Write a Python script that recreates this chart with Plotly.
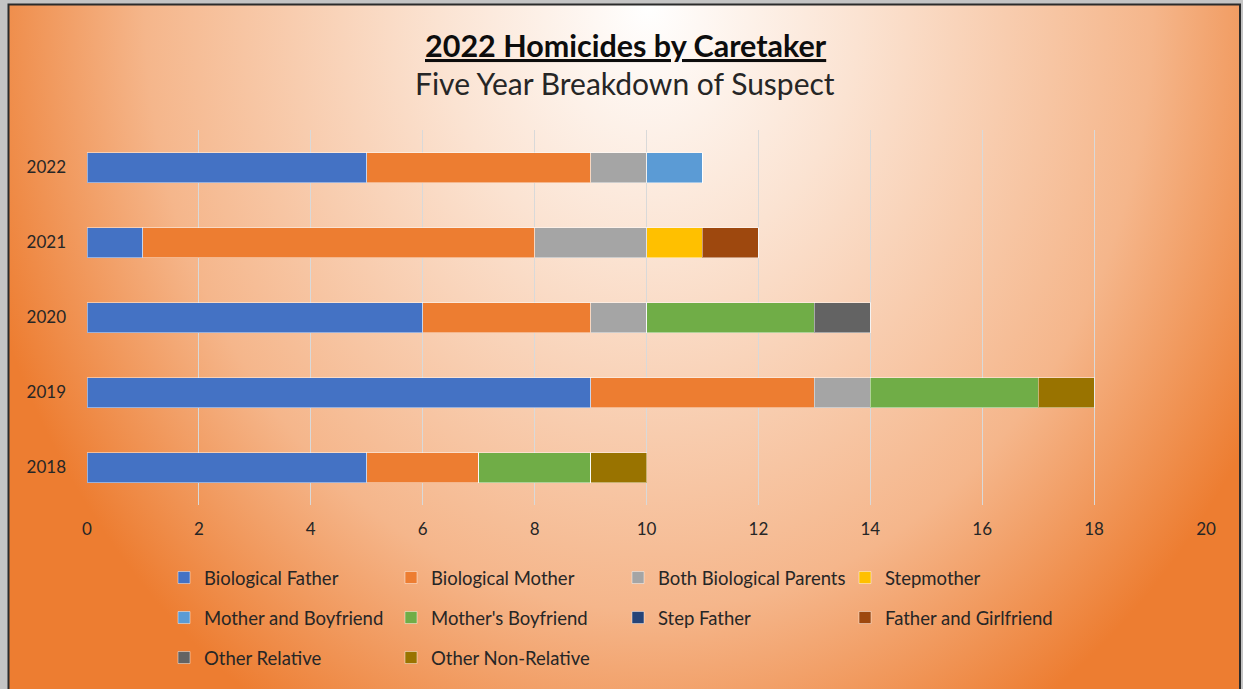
import base64
import plotly.graph_objects as go

years = ["2018", "2019", "2020", "2021", "2022"]
series_names = [
    "Biological Father", "Biological Mother", "Both Biological Parents", "Stepmother",
    "Mother and Boyfriend", "Mother's Boyfriend", "Step Father", "Father and Girlfriend",
    "Other Relative", "Other Non-Relative",
]
biological_father = [5, 9, 6, 1, 5]
biological_mother = [2, 4, 3, 7, 4]
both_parents = [0, 1, 1, 2, 1]
stepmother = [0, 0, 0, 1, 0]
mother_and_boyfriend = [0, 0, 0, 0, 1]
mothers_boyfriend = [2, 3, 3, 0, 0]
step_father = [0, 0, 0, 0, 0]
father_and_girlfriend = [0, 0, 0, 1, 0]
other_relative = [0, 0, 1, 0, 0]
other_non_relative = [1, 1, 0, 0, 0]
x_ticks = [0, 2, 4, 6, 8, 10, 12, 14, 16, 18, 20]

values = [biological_father, biological_mother, both_parents, stepmother,
          mother_and_boyfriend, mothers_boyfriend, step_father, father_and_girlfriend,
          other_relative, other_non_relative]
colors = ["#4472C4", "#ED7D31", "#A5A5A5", "#FFC000", "#5B9BD5", "#70AD47",
          "#264478", "#9E480E", "#636363", "#997300"]
legend_ids = ["legend"] * 4 + ["legend2"] * 4 + ["legend3"] * 2

W, H = 1243, 689
L, R, T, B = 87, 1243 - 1206, 130, 689 - 505
pw, ph = W - L - R, H - T - B

FONT = "Lato"

fig = go.Figure()
for name, vals, col, lg in zip(series_names, values, colors, legend_ids):
    fig.add_trace(go.Bar(
        y=years, x=vals, name=name, orientation="h",
        marker=dict(color=col, line=dict(color="rgba(255,255,255,0.45)", width=1)),
        legend=lg,
    ))

# radial gradient background as SVG
bw, bh = 1231, 684
cx = 640
svg = f'''<svg xmlns="http://www.w3.org/2000/svg" width="{bw}" height="{bh}" viewBox="0 0 {bw} {bh}" preserveAspectRatio="none">
<defs><radialGradient id="g" gradientUnits="userSpaceOnUse" cx="{cx}" cy="0" r="700"
 gradientTransform="translate({cx},0) scale(1,1.2) translate(-{cx},0)">
<stop offset="0" stop-color="#FFFFFF"/>
<stop offset="0.3" stop-color="#FBE3D2"/>
<stop offset="0.72" stop-color="#F5B68B"/>
<stop offset="1" stop-color="#ED7D31"/>
</radialGradient></defs>
<rect x="0" y="0" width="{bw}" height="{bh}" fill="url(#g)"/>
</svg>'''
src = "data:image/svg+xml;base64," + base64.b64encode(svg.encode()).decode()

def px_x(p):
    return (p - L) / pw

def px_y(p):
    return (H - B - p) / ph

fig.add_layout_image(dict(
    source=src, xref="paper", yref="paper",
    x=px_x(9), y=px_y(5), sizex=bw / pw, sizey=bh / ph,
    xanchor="left", yanchor="top", sizing="stretch", layer="below",
))
# frame border
fig.add_shape(type="rect", xref="paper", yref="paper",
              x0=px_x(8.5), x1=px_x(1240), y0=px_y(4.5), y1=px_y(700),
              line=dict(color="#2b2b2b", width=2), fillcolor="rgba(0,0,0,0)", layer="below")

legend_common = dict(orientation="h", xanchor="left", yanchor="middle",
                     entrywidth=182, entrywidthmode="pixels",
                     font=dict(family=FONT, size=18.5, color="#262626"),
                     bgcolor="rgba(0,0,0,0)", traceorder="normal")

fig.update_layout(
    width=W, height=H,
    margin=dict(l=L, r=R, t=T, b=B, autoexpand=False),
    paper_bgcolor="#C4C4C4",
    plot_bgcolor="rgba(0,0,0,0)",
    barmode="stack",
    bargap=0.6,
    font=dict(family=FONT, color="#262626"),
    xaxis=dict(range=[0, 20], tickvals=x_ticks, showgrid=True, gridcolor="#D9D9D9",
               gridwidth=1, zeroline=False, showline=False, ticks="",
               tickfont=dict(size=17, color="#262626"), ticklabelstandoff=12,
               fixedrange=True),
    yaxis=dict(categoryorder="array", categoryarray=years, showgrid=False,
               zeroline=False, showline=False, ticks="",
               tickfont=dict(size=17, color="#262626"), ticklabelstandoff=20,
               fixedrange=True),
    legend=dict(x=px_x(164), y=px_y(578), **legend_common),
    legend2=dict(x=px_x(164), y=px_y(618), **legend_common),
    legend3=dict(x=px_x(164), y=px_y(658), **legend_common),
    annotations=[
        dict(text="<b><u>2022 Homicides by Caretaker</u></b>", xref="paper", yref="paper",
             x=px_x(626), y=px_y(45), xanchor="center", yanchor="middle", showarrow=False,
             font=dict(family=FONT, size=30.5, color="#0d0d0d")),
        dict(text="Five Year Breakdown of Suspect", xref="paper", yref="paper",
             x=px_x(625), y=px_y(83), xanchor="center", yanchor="middle", showarrow=False,
             font=dict(family=FONT, size=30, color="#262626")),
    ],
)

fig.write_html("out.html", config={"displayModeBar": False},
               post_script="document.body.style.margin='0';document.body.style.overflow='hidden';")
